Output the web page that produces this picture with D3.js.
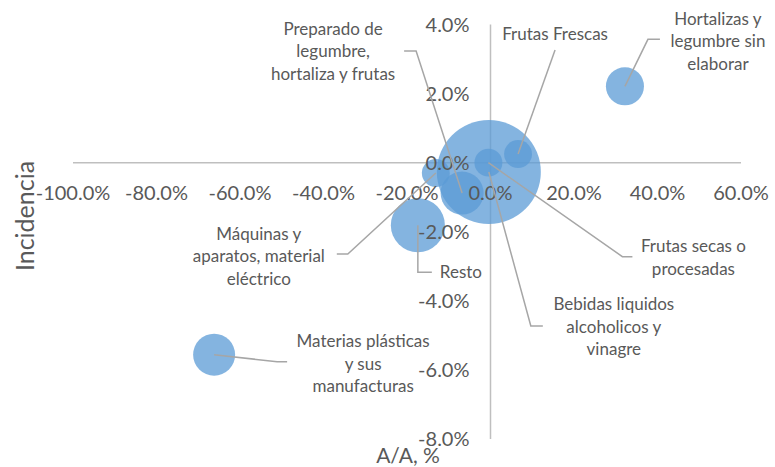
<!DOCTYPE html>
<html>
<head>
<meta charset="utf-8">
<script src="https://cdn.jsdelivr.net/npm/d3@7"></script>
<style>
  body { margin: 0; background: #fff; }
  svg { font-family: Lato, "Open Sans", sans-serif; }
</style>
</head>
<body>
<div id="chart"></div>
<script>
// categorias y valores (A/A en fraccion, incidencia en fraccion, peso relativo)
const categorias = [
  "Hortalizas y legumbre sin elaborar",
  "Materias plásticas y sus manufacturas",
  "Resto",
  "Bebidas liquidos alcoholicos y vinagre",
  "Frutas secas o procesadas",
  "Frutas Frescas",
  "Preparado de legumbre, hortaliza y frutas",
  "Máquinas y aparatos, material eléctrico"
];
const variacionAA = [0.322, -0.662, -0.174, -0.004, -0.005, 0.066, -0.068, -0.131];
const incidencia = [0.0221, -0.0556, -0.0181, -0.0027, 0.0000, 0.0025, -0.0088, -0.0030];
const peso = [13.4, 16.3, 27.0, 100, 7.2, 7.2, 17.1, 7.2];

const xTicks = [-1, -0.8, -0.6, -0.4, -0.2, 0, 0.2, 0.4, 0.6];
const yTicks = [-0.08, -0.06, -0.04, -0.02, 0, 0.02, 0.04];

// etiquetas partidas en lineas, como en la planilla
const lineasEtiqueta = [
  ["Hortalizas y", "legumbre sin", "elaborar"],
  ["Materias plásticas", "y sus", "manufacturas"],
  ["Resto"],
  ["Bebidas liquidos", "alcoholicos y", "vinagre"],
  ["Frutas secas o", "procesadas"],
  ["Frutas Frescas"],
  ["Preparado de", "legumbre,", "hortaliza y frutas"],
  ["Máquinas y", "aparatos, material", "eléctrico"]
];
// desplazamientos de las guias respecto al centro de la burbuja (px)
const guias = [
  { codo: [23, -47], fin: [35, -47], texto: [93, -45], anchor: "middle" },
  { codo: [63, 7], fin: [73, 7], texto: [149, 9], anchor: "middle" },
  { codo: [0, 47], fin: [14, 47], texto: [22, 47], anchor: "start" },
  { codo: [42, 154], fin: [54, 154], texto: [125, 155], anchor: "middle" },
  { codo: [134, 94], fin: [144, 94], texto: [205, 95], anchor: "middle" },
  { codo: null, fin: [37, -104], texto: [37, -120], anchor: "middle" },
  { codo: [-46, -142], fin: [-58, -142], texto: [-129, -142], anchor: "middle" },
  { codo: [-88, 81], fin: [-99, 81], texto: [-177, 83], anchor: "middle" }
];

const width = 775, height = 467;
const svg = d3.select("#chart").append("svg")
  .attr("width", width)
  .attr("height", height);

const x = d3.scaleLinear().domain([-1, 0.6]).range([73, 741]);
const y = d3.scaleLinear().domain([-0.08, 0.04]).range([439, 24.5]);
const r = d3.scaleSqrt().domain([0, d3.max(peso)]).range([0, 52]);
const fmt = v => d3.format(".1%")(v).replace("\u2212", "-");

const grisEje = "#BFBFBF", grisTexto = "#595959";

// ejes: lineas que cruzan en cero
svg.append("line")
  .attr("x1", x(-1)).attr("x2", x(0.6))
  .attr("y1", y(0)).attr("y2", y(0))
  .attr("stroke", grisEje).attr("stroke-width", 1.5);
svg.append("line")
  .attr("x1", x(0)).attr("x2", x(0))
  .attr("y1", y(0.04)).attr("y2", y(-0.08))
  .attr("stroke", grisEje).attr("stroke-width", 1.5);

const datos = categorias.map((c, i) => ({
  nombre: c, x: variacionAA[i], y: incidencia[i], peso: peso[i],
  lineas: lineasEtiqueta[i], guia: guias[i]
}));

// burbujas
svg.append("g").selectAll("circle")
  .data(datos)
  .enter()
  .append("circle")
  .attr("cx", d => x(d.x))
  .attr("cy", d => y(d.y))
  .attr("r", d => r(d.peso))
  .attr("fill", "#5B9BD5")
  .attr("fill-opacity", 0.75);

// etiquetas de los ticks
svg.append("g").selectAll("text")
  .data(xTicks)
  .enter()
  .append("text")
  .attr("x", d => x(d))
  .attr("y", y(0) + 37)
  .attr("text-anchor", "middle")
  .attr("fill", grisTexto)
  .attr("font-size", 20)
  .text(d => fmt(d));

svg.append("g").selectAll("text")
  .data(yTicks)
  .enter()
  .append("text")
  .attr("x", x(0) - 21)
  .attr("y", d => y(d) + 7)
  .attr("text-anchor", "end")
  .attr("fill", grisTexto)
  .attr("font-size", 20)
  .text(d => fmt(d));

// titulos de ejes
svg.append("text")
  .attr("transform", "translate(34,216) rotate(-90)")
  .attr("text-anchor", "middle")
  .attr("fill", grisTexto)
  .attr("font-size", 25)
  .text("Incidencia");

svg.append("text")
  .attr("x", 408)
  .attr("y", 463)
  .attr("text-anchor", "middle")
  .attr("fill", grisTexto)
  .attr("font-size", 21)
  .text("A/A, %");

// guias de las etiquetas
const etiquetas = svg.append("g");
datos.forEach(d => {
  const cx = x(d.x), cy = y(d.y), g = d.guia;
  const pts = [[cx, cy]];
  if (g.codo) pts.push([cx + g.codo[0], cy + g.codo[1]]);
  pts.push([cx + g.fin[0], cy + g.fin[1]]);
  etiquetas.append("path")
    .attr("d", d3.line()(pts))
    .attr("fill", "none")
    .attr("stroke", "#A6A6A6")
    .attr("stroke-width", 1.5);

  const n = d.lineas.length, paso = 22.5;
  const t = etiquetas.append("text")
    .attr("text-anchor", g.anchor)
    .attr("fill", grisTexto)
    .attr("font-size", 17);
  d.lineas.forEach((l, k) => {
    t.append("tspan")
      .attr("x", cx + g.texto[0])
      .attr("y", cy + g.texto[1] + (k - (n - 1) / 2) * paso + 6)
      .text(l);
  });
});
</script>
</body>
</html>
